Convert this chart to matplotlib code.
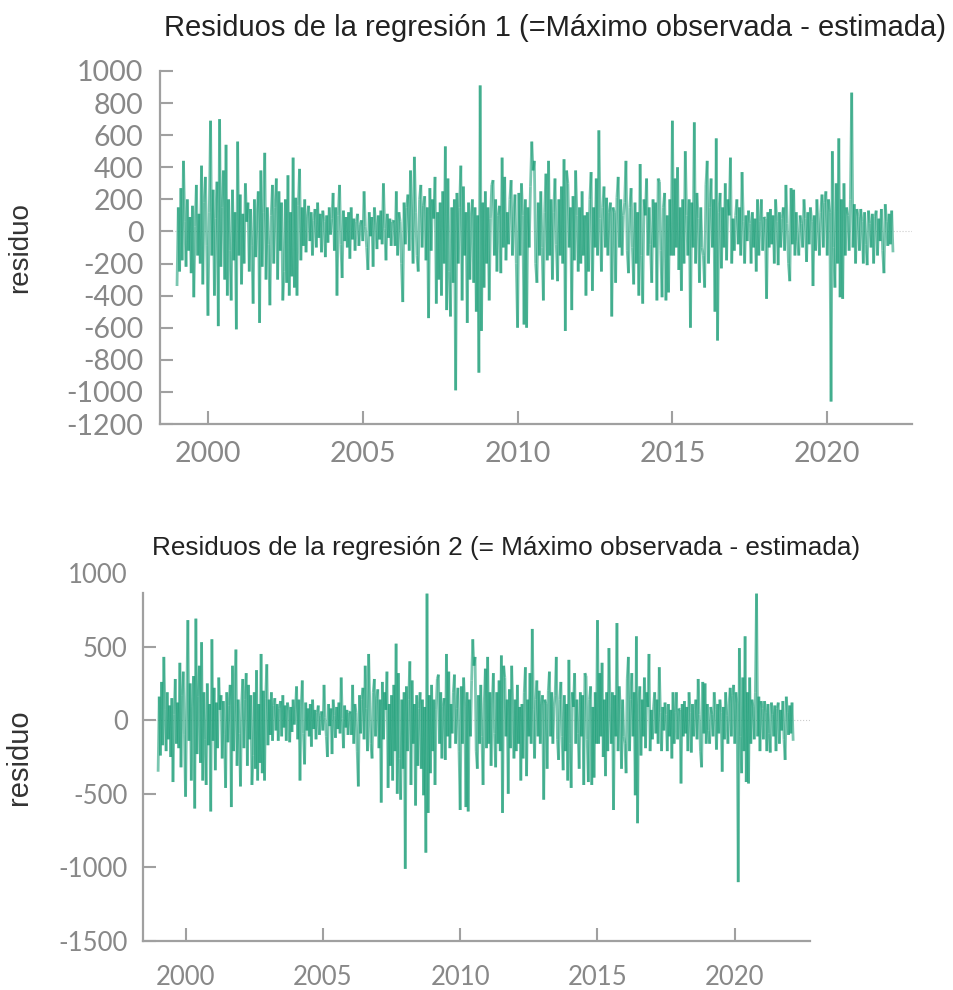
import numpy as np
import matplotlib
matplotlib.use("Agg")
import matplotlib.pyplot as plt
from matplotlib.collections import LineCollection

plt.rcParams["axes.unicode_minus"] = False

# residuals, ~24 values per year starting Jan 1999
res1 = [
    -340, 150, -250, 270, -180, 440, 60, -220, 200, -120, 90, -260, 160, -410, 30, 290, -150, 110, -200, 410, -330, 180, 340, -90,       # 1999
    -525, 120, 690, -150, 260, -400, 80, 310, -590, 700, -220, 150, 380, -300, 540, -400, 200, -120, -430, 260, -180, 120, -610, 560,    # 2000
    -150, 230, -330, 110, -200, 300, 60, 180, -250, 140, -90, -450, 200, -160, 90, 250, -570, 380, -220, 120, 490, -300, 150, -80,      # 2001
    -460, 100, 290, -200, 150, 330, -300, 250, -120, 180, -430, -250, 200, -320, 350, -400, 120, -280, 460, -350, 210, -400, 160, 390,  # 2002
    -180, 150, -90, 200, -130, 90, 160, -60, 120, -150, 70, 140, -100, 180, -40, 110, -130, 130, 60, -160, 100, -70, 150, -20,          # 2003
    80, 240, -120, 150, -400, 100, 290, -80, -290, 130, -60, 90, -100, 120, -170, 150, -50, 80, -120, 60, 110, -90, 40, 70,             # 2004
    -60, 250, 30, -100, -240, 120, -30, 90, -220, 150, 40, -110, 100, -50, 130, -80, 300, 20, -180, 110, -40, 80, -90, 60,              # 2005
    70, -90, 250, -150, 120, 60, -200, -440, 180, -80, 150, 230, -120, 380, 90, -200, 465, 120, -150, -250, 200, 290, -100, 160,        # 2006
    220, -180, 150, -540, 270, -120, 200, 80, 340, -450, 120, -300, 180, -400, 250, -200, 530, -490, 330, -250, -530, 150, -320, 200,   # 2007
    -990, 240, -200, 150, 410, -430, 280, -150, 120, -570, 180, -300, 90, 200, -320, 150, -500, 100, -880, 910, -620, 180, -350, 250,   # 2008
    -200, 150, -430, 80, 290, 320, -150, 200, -250, 100, 160, -260, 460, -100, 340, -180, 120, -80, 200, 320, -150, 90, 230, -200,      # 2009
    -600, 240, -150, 300, 100, -580, 200, -600, 150, -100, 280, 560, 380, 440, -200, -320, 180, -150, 250, -100, -430, 120, 360, -180,  # 2010
    440, -150, 200, -300, 120, 330, -80, -310, 200, -150, 280, -200, 450, -620, 380, 300, -100, 150, -490, 220, -180, 380, 100, -250,   # 2011
    150, -200, 250, -150, 100, -400, 120, -250, 200, 370, -370, 150, -100, 330, -150, 630, 80, -250, 150, 280, -100, 210, -150, 120,    # 2012
    180, -530, 150, 120, -320, 210, 340, -100, 200, -150, 100, 180, 440, -120, -260, 150, 270, -100, -330, 180, -200, 120, -400, 420,   # 2013
    -150, -450, 200, 100, 330, -150, 150, -80, -320, 200, -100, 180, -430, 330, 310, -120, -410, 150, 240, -430, 100, -380, 200, -150,  # 2014
    690, -150, 330, -100, 400, -240, 150, -370, 200, -200, 500, 100, -150, 200, -600, 180, -100, 680, -200, 240, 80, -320, 150, -100,   # 2015
    -150, -350, 290, 440, -200, 150, 330, -100, 200, -500, 580, -680, 120, 240, -230, 150, -100, 300, -180, 200, 100, 460, -200, 80,    # 2016
    -120, 100, 200, -80, 150, -150, 370, 60, -200, 100, -60, 130, 50, -200, 120, -100, 80, -250, 200, -150, 60, 200, -120, 90,          # 2017
    80, -420, 120, -100, 140, -80, 100, -200, 200, 60, -210, 120, -100, 80, 150, -120, 290, 50, -200, -310, 270, -80, 260, -150,        # 2018
    120, -60, -150, 100, 50, -100, 200, 80, -190, 120, -80, 150, 60, -340, 100, -120, 200, 40, -150, 120, 230, -100, 180, 250,          # 2019
    -150, 200, 120, -1060, 500, -100, -350, 300, -200, 580, -410, 200, -420, 300, -150, 150, 100, -120, 200, 865, -100, 170, -200, 140, # 2020
    90, -120, 140, 60, -200, 120, -80, -210, 130, 50, -100, 110, -200, 90, 130, -150, 80, -60, 140, -120, -260, 170, 60, -90,           # 2021
    110, -80, 130, -130,                                                                                                                # 2022
]

res2 = [
    -350, 160, -240, 260, -170, 430, 70, -210, 190, -130, 100, -250, 150, -420, 40, 280, -160, 120, -190, 390, -320, 170, 330, -100,    # 1999
    -520, 110, 680, -140, 250, -410, 90, 300, -600, 690, -230, 160, 370, -290, 530, -410, 190, -130, -440, 250, -170, 110, -620, 550,   # 2000
    -140, 220, -340, 120, -190, 290, 70, 170, -260, 130, -100, -460, 190, -150, 100, 240, -590, 370, -210, 110, 480, -310, 140, -90,    # 2001
    -450, 110, 280, -190, 140, 320, -310, 240, -130, 170, -440, -240, 190, -330, 340, -410, 110, -290, 450, -360, 200, -410, 150, 380,  # 2002
    -170, 140, -100, 190, -140, 100, 150, -70, 110, -140, 80, 130, -110, 170, -50, 100, -140, 120, 70, -150, 90, -80, 140, -30,         # 2003
    70, 230, -130, 140, -410, 90, 270, -90, -300, 120, -70, 80, -110, 110, -180, 140, -60, 70, -130, 50, 100, -100, 30, 60,             # 2004
    -70, 240, 20, -110, -250, 110, -40, 80, -230, 140, 30, -120, 90, -60, 120, -90, 290, 10, -190, 100, -50, 70, -100, 50,              # 2005
    60, -100, 240, -160, 110, 50, -210, -450, 170, -90, 140, 220, -130, 370, 80, -210, 450, 110, -160, -260, 190, 280, -110, 150,       # 2006
    210, -190, 140, -560, 260, -130, 190, 70, 330, -460, 110, -310, 170, -410, 240, -210, 520, -500, 320, -260, -540, 140, -330, 190,   # 2007
    -1010, 230, -210, 140, 400, -440, 270, -160, 110, -580, 170, -310, 80, 190, -330, 140, -510, 90, -900, 860, -630, 170, -360, 240,   # 2008
    -210, 140, -440, 70, 280, 310, -160, 190, -260, 90, 150, -270, 450, -110, 330, -190, 110, -90, 190, 310, -160, 80, 220, -210,       # 2009
    -610, 230, -160, 290, 90, -590, 190, -620, 140, -110, 270, 550, 370, 430, -210, -330, 170, -160, 240, -110, -440, 110, 350, -190,   # 2010
    430, -160, 190, -310, 110, 320, -90, -320, 190, -160, 270, -210, 440, -630, 370, 290, -110, 140, -500, 210, -190, 370, 90, -260,    # 2011
    140, -210, 240, -160, 90, -410, 110, -260, 190, 360, -380, 140, -110, 320, -160, 620, 70, -260, 140, 270, -110, 200, -160, 110,     # 2012
    170, -540, 140, 110, -330, 200, 330, -110, 190, -160, 90, 170, 430, -130, -270, 140, 260, -110, -340, 170, -210, 110, -410, 410,    # 2013
    -160, -460, 190, 90, 320, -160, 140, -90, -330, 190, -110, 170, -440, 320, 300, -130, -420, 140, 230, -440, 90, -390, 190, -160,    # 2014
    680, -160, 320, -110, 390, -250, 140, -380, 190, -210, 490, 90, -160, 190, -610, 170, -110, 660, -210, 230, 70, -330, 140, -110,    # 2015
    -160, -360, 280, 430, -210, 140, 320, -110, 190, -510, 570, -700, 110, 230, -240, 140, -110, 290, -190, 190, 90, 450, -210, 70,     # 2016
    -130, 90, 190, -90, 140, -160, 360, 50, -210, 90, -70, 120, 40, -210, 110, -110, 70, -260, 190, -160, 50, 190, -130, 80,            # 2017
    70, -430, 110, -110, 130, -90, 90, -210, 190, 50, -220, 110, -110, 70, 140, -130, 280, 40, -210, -320, 260, -90, 250, -160,         # 2018
    110, -70, -160, 90, 40, -110, 190, 70, -200, 110, -90, 140, 50, -350, 90, -130, 190, 30, -160, 110, 220, -110, 170, 240,            # 2019
    -160, 190, 110, -1100, 490, -110, -360, 290, -210, 570, -420, 190, -430, 290, -160, 140, 90, -130, 190, 860, -110, 160, -210, 130,  # 2020
    80, -130, 130, 50, -210, 110, -90, -220, 120, 40, -110, 100, -210, 80, 120, -160, 70, -70, 130, -130, -270, 160, 50, -100,          # 2021
    100, -90, 120, -140,                                                                                                                # 2022
]

year_ticks = [2000, 2005, 2010, 2015, 2020]
yticks_1 = [-1200, -1000, -800, -600, -400, -200, 0, 200, 400, 600, 800, 1000]
yticks_2 = [-1500, -1000, -500, 0, 500, 1000]

title_1 = "Residuos de la regresión 1 (=Máximo observada - estimada)"
title_2 = "Residuos de la regresión 2 (= Máximo observada - estimada)"

LINE = "#1b9e77"
GREY = "#888888"
SPINE = "#a0a0a0"


def style_axes(ax, fs, xpad, ypad, ticklen):
    for s in ("top", "right"):
        ax.spines[s].set_visible(False)
    for s in ("left", "bottom"):
        ax.spines[s].set_color(SPINE)
        ax.spines[s].set_linewidth(1.6)
    ax.tick_params(axis="both", direction="in", color=SPINE, width=1.5,
                   length=ticklen, labelcolor=GREY, labelsize=fs)
    ax.tick_params(axis="x", pad=xpad)
    ax.tick_params(axis="y", pad=ypad)
    for lab in ax.get_xticklabels() + ax.get_yticklabels():
        lab.set_family("Lato")


def draw_series(ax, t, vals):
    # separate translucent segments, so crossings get darker like the original
    pts = np.column_stack([t, vals])
    segs = np.stack([pts[:-1], pts[1:]], axis=1)
    lc = LineCollection(segs, colors=LINE, linewidths=2.0, alpha=0.58)
    ax.add_collection(lc)


fig = plt.figure(figsize=(9.54, 9.90), dpi=100)

# ---- panel 1
t1 = 1999 + np.arange(len(res1)) / 24.0
ax1 = fig.add_axes([0.1677, 0.5717, 0.7883, 0.3566])
ax1.axhline(0, color="#cccccc", lw=0.8, ls=":", zorder=0)
draw_series(ax1, t1, res1)
ax1.set_xlim(1998.45, 2022.74)
ax1.set_ylim(-1200, 1000)
ax1.set_xticks(year_ticks)
ax1.set_yticks(yticks_1)
style_axes(ax1, 20.5, 12.5, 12, 9.5)
ax1.set_ylabel("residuo", fontsize=20, color="#333333", family="Liberation Sans")
ax1.yaxis.set_label_coords(-0.169, 0.5)
fig.text(555 / 954, 1 - 28 / 990, title_1, ha="center", va="center",
         fontsize=21, color="#222222", family="Liberation Sans")

# ---- panel 2
t2 = 1999 + np.arange(len(res2)) / 24.0
ax2 = fig.add_axes([0.1499, 0.0495, 0.6992, 0.3717])
ax2.axhline(0, color="#cccccc", lw=0.8, ls=":", zorder=0)
draw_series(ax2, t2, res2)
ax2.set_xlim(1998.45, 2022.74)
ax2.set_ylim(-1500, 1000)
ax2.spines["left"].set_bounds(-1500, 862)
ax2.set_xticks(year_ticks)
ax2.set_yticks(yticks_2)
style_axes(ax2, 18.5, 17, 11, 9.5)
ax2.yaxis.get_major_ticks()[-1].tick1line.set_visible(False)
ax2.set_ylabel("residuo", fontsize=21, color="#333333", family="Liberation Sans")
ax2.yaxis.set_label_coords(-0.165, 0.5)
fig.text(506 / 954, 1 - 548 / 990, title_2, ha="center", va="center",
         fontsize=18.8, color="#222222", family="Liberation Sans")

fig.savefig("out.png", dpi=100)
